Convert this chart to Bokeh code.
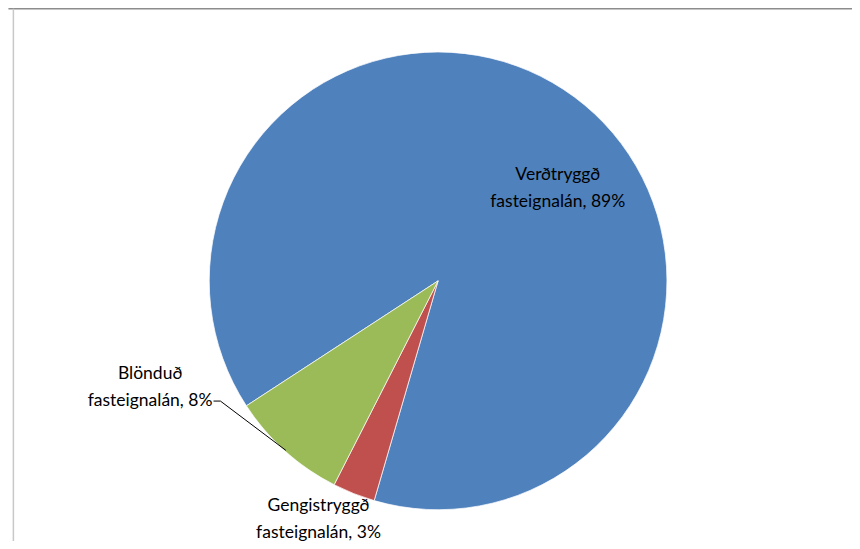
import math
from bokeh.plotting import figure
from bokeh.models import Range1d, ColumnDataSource
from bokeh.core.properties import value
from bokeh.embed import file_html
from bokeh.resources import INLINE

# ---- data ----
categories = ["Verðtryggð fasteignalán", "Gengistryggð fasteignalán", "Blönduð fasteignalán"]
shares = [88.7, 3.0, 8.3]
colors = ["#4F81BD", "#C0504D", "#9BBB59"]

# ---- layout (data coordinates follow the reference's 860x549 pixel grid) ----
W, H = 852, 541
RW, RH = 860, 549
def X(px): return px
def Y(py): return RH - py

cx, cy = X(441.7), Y(284.5)
R = 231 * W / RW  # screen pixels
first_angle = 236.9  # degrees clockwise from 12 o'clock

p = figure(width=W, height=H, output_backend="svg", toolbar_location=None,
           x_range=Range1d(0, RW), y_range=Range1d(0, RH), min_border=0)
p.axis.visible = False
p.grid.visible = False
p.outline_line_color = None
p.background_fill_color = "white"

total = sum(shares)
starts, ends = [], []
acc = first_angle
for s in shares:
    th_s = acc
    th_e = acc + s / total * 360.0
    acc = th_e
    a_s = math.radians(90 - th_s)
    a_e = math.radians(90 - th_e)
    starts.append(a_e)
    ends.append(a_s)

src = ColumnDataSource(dict(start=starts, end=ends, color=colors, cat=categories))
p.wedge(x=cx, y=cy, radius=R, radius_units="screen", start_angle="start", end_angle="end",
        fill_color="color", line_color="white", line_width=0.7, source=src)

# frame lines (chart area border, partially cropped)
p.segment(x0=[X(8), X(13)], y0=[Y(8.3), Y(8.3)], x1=[X(860), X(13)], y1=[Y(8.3), Y(549)],
          line_color=["#8c8c8c", "#c8c8c8"], line_width=[1.5, 1.5])

# labels
label_pos = [(562.5, 189.5), (321, 525.5), (151, 391.5)]
texts = []
for c, s in zip(categories, shares):
    name, rest = c.split(" ", 1)
    texts.append(f"{name}\n{rest}, {round(s):d}%")
p.text(x=[X(a) for a, b in label_pos], y=[Y(b) for a, b in label_pos], text=texts,
       text_font=value("Lato"), text_font_size="17.5px", text_color="black",
       text_align="center", text_baseline="middle", text_line_height=1.28)

# leader line for Blönduð
p.line(x=[X(215), X(222), X(288)], y=[Y(406.5), Y(406.5), Y(456.5)], line_color="black", line_width=1)

open("out.html", "w").write(file_html(p, INLINE))
